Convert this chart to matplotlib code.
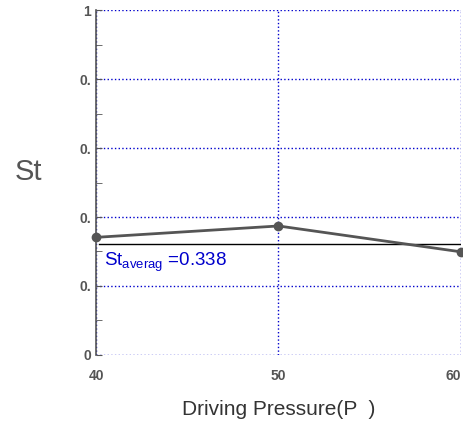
import matplotlib.pyplot as plt
from matplotlib.ticker import MultipleLocator

plt.rcParams['font.family'] = ['Liberation Sans', 'DejaVu Sans']

pressure = [40, 50, 60]
st_values = [0.341, 0.374, 0.299]
avg_line = 0.322
avg_label = 'St$_{\\mathregular{averag}}$ =0.338'
y_ticks = [0, 0.2, 0.4, 0.6, 0.8, 1]
y_labels = ['0', '0.', '0.', '0.', '0.', '1']

fig = plt.figure(figsize=(4.64, 4.21), dpi=100)
ax = fig.add_axes([0.2069, 0.1568, 0.7866, 0.8194])

ax.plot(pressure, st_values, color='#555555', lw=2, marker='o', ms=6,
        clip_on=False, zorder=5)
ax.axhline(avg_line, color='black', lw=1, xmin=0.008)
ax.text(40.45, avg_line - 0.02, avg_label, color='#0000cc', fontsize=13.5,
        va='top', ha='left')

ax.set_xlim(40, 60)
ax.set_ylim(0, 1)
ax.set_xticks(pressure)
ax.set_yticks(y_ticks)
ax.set_yticklabels(y_labels)
ax.yaxis.set_minor_locator(MultipleLocator(0.1))
ax.grid(True, which='major', color='#0000cc', linestyle=':', lw=1)

for s in ['top', 'right', 'bottom']:
    ax.spines[s].set_visible(False)
ax.spines['left'].set_color('#555555')
ax.spines['left'].set_linewidth(1.2)

ax.tick_params(axis='y', which='both', direction='in', length=4,
               color='#555555', labelcolor='#555555', labelsize=10)
ax.tick_params(axis='x', length=0, pad=10, labelcolor='#555555', labelsize=10)
for lab in ax.get_xticklabels() + ax.get_yticklabels():
    lab.set_fontweight('bold')
ax.get_xticklabels()[-1].set_ha('right')

ax.set_ylabel('St', rotation=0, fontsize=21, color='#555555')
ax.yaxis.set_label_coords(-0.186, 0.49)
ax.set_xlabel('Driving Pressure(P  )', fontsize=15, color='#333333', labelpad=12)

plt.savefig('out.png')
plt.close()
